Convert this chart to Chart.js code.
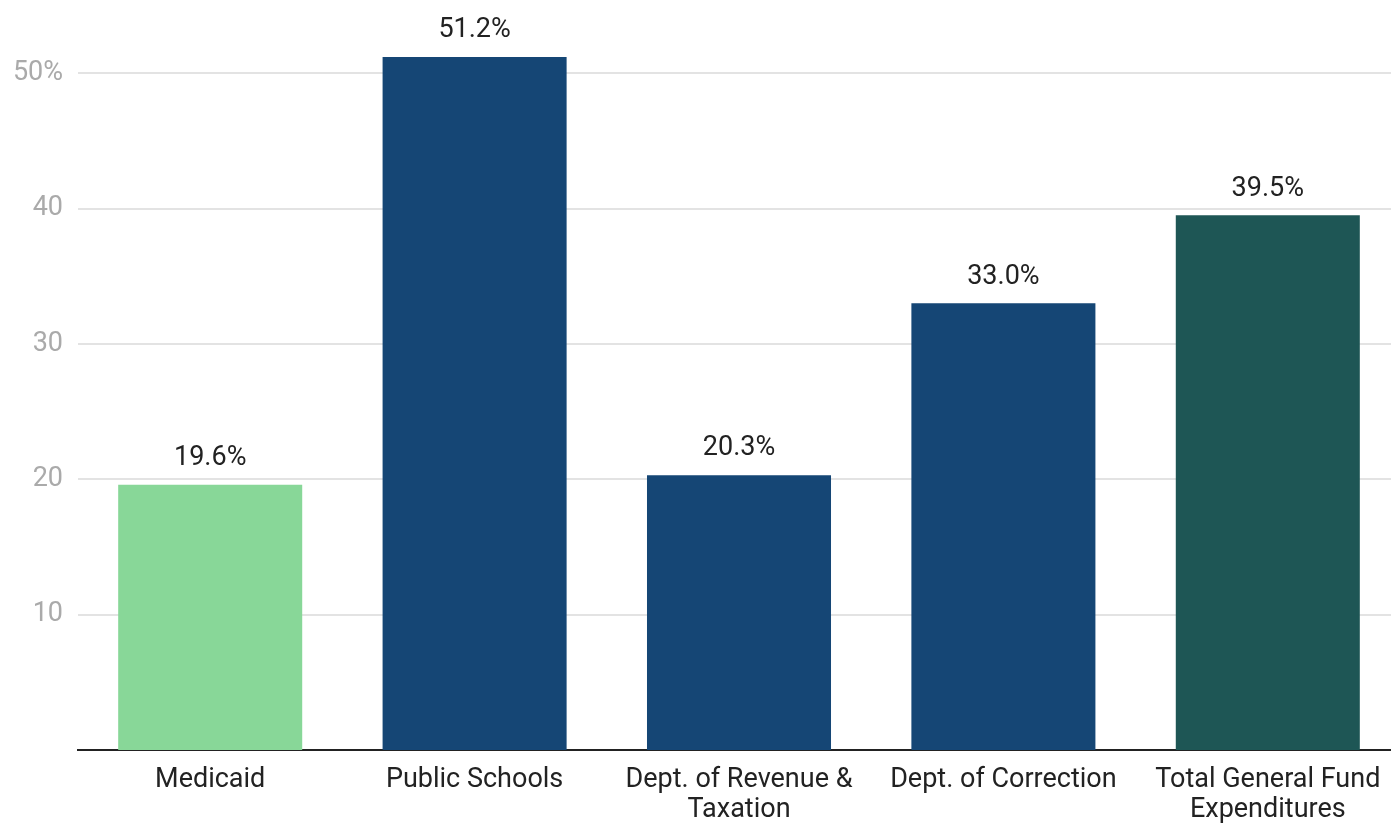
<!DOCTYPE html>
<html>
<head>
<meta charset="utf-8">
<script src="https://cdn.jsdelivr.net/npm/chart.js@4"></script>
<style>
  body { margin: 0; background: #fff; overflow: hidden; }
  #wrap { position: absolute; left: 0; top: 0; width: 1400px; height: 824px; }
</style>
</head>
<body>
<div id="wrap"><canvas id="myChart"></canvas></div>
<script>
// categories and values
const categories = [
    'Medicaid',
    'Public Schools',
    ['Dept. of Revenue &', 'Taxation'],
    'Dept. of Correction',
    ['Total General Fund', 'Expenditures']
];
const values = [19.6, 51.2, 20.3, 33.0, 39.5];
const barColors = ['#88d798', '#154675', '#154675', '#154675', '#1e5655'];
const yTicks = [10, 20, 30, 40, 50];

//draws the value above every bar
const valueLabels = {
    id: 'valueLabels',
    afterDatasetsDraw(chart) {
        const ctx = chart.ctx;
        ctx.save();
        ctx.font = '27px Roboto';
        ctx.fillStyle = '#222';
        ctx.textAlign = 'center';
        ctx.textBaseline = 'bottom';
        chart.getDatasetMeta(0).data.forEach((bar, i) => {
            ctx.fillText(values[i].toFixed(1) + '%', bar.x, bar.y - 13);
        });
        ctx.restore();
    }
};

const data = {
    labels: categories,
    datasets: [{
        data: values,
        backgroundColor: barColors,
        barPercentage: 0.696,
        categoryPercentage: 1.0
    }]
};

const config = {
    type: 'bar',
    data,
    plugins: [valueLabels],
    options: {
        responsive: true,
        maintainAspectRatio: false,
        animation: false,
        layout: { padding: 0 },
        plugins: {
            legend: { display: false },
            tooltip: { enabled: false }
        },
        scales: {
            x: {
                grid: { display: false, drawTicks: false },
                border: { color: '#222', width: 2 },
                ticks: {
                    color: '#222',
                    font: { family: 'Roboto', size: 27, lineHeight: 1.12 },
                    padding: 15,
                    maxRotation: 0,
                    autoSkip: false
                },
                afterFit: (s) => { s.height = 74; }
            },
            y: {
                min: 0,
                max: 53.1,
                grid: { color: '#e3e3e3', lineWidth: 2, drawTicks: false },
                border: { display: false },
                afterBuildTicks: (s) => { s.ticks = yTicks.map(v => ({ value: v })); },
                ticks: {
                    color: '#aaa',
                    font: { family: 'Roboto', size: 27 },
                    padding: 15,
                    callback: (v) => v === 50 ? v + '%' : v
                },
                afterFit: (s) => { s.width = 78; }
            }
        }
    }
};

new Chart(document.getElementById('myChart'), config);
</script>
</body>
</html>
